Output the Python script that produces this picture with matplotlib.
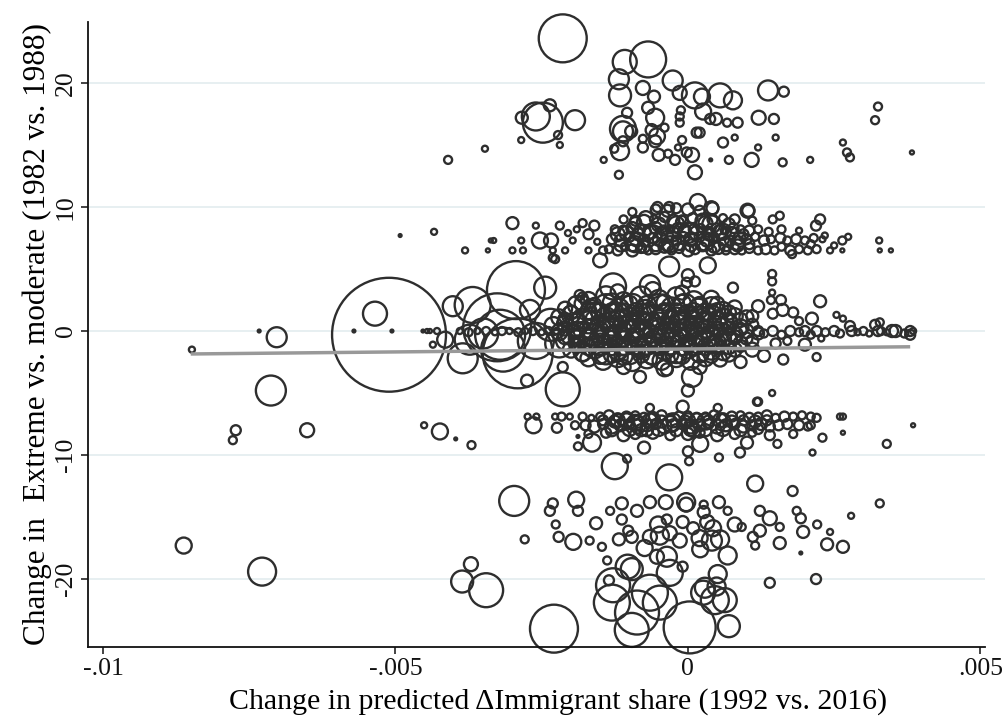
import matplotlib
matplotlib.use("Agg")
from matplotlib import pyplot as plt
import numpy as np

# ---- data (x = change in predicted immigrant share,
#      y = change in extreme vs. moderate vote, w = analytic weight) ----

# upper cluster (y ~ 13..24)
x_top = [-0.00214, -0.00108, -0.00068, -0.00118, -0.00116, -0.00077, -0.00058, -0.00068,
         -0.00026, -0.00014, 0.00012, 0.00024, 0.00055, 0.00077, 0.00137, 0.00164,
         0.00026, 0.00038, 0.00048, 0.00067, 0.00085, 0.00121, 0.00147, 0.0015,
         0.0012, 0.00109, 0.00162, 0.0007, 0.00039, 0.0006, 0.0008, 0.00012,
         0.00007, -0.00002, 0.00015, 0.0002, -0.0001, -0.00017, -0.00022, -0.00034,
         -0.0005, -0.00014, -0.00014, -0.00012, -0.00056, -0.0004, -0.00062, -0.00053,
         -0.00056, -0.00077, -0.00077, -0.00111, -0.00111, -0.00104, -0.00097, -0.00116,
         -0.00126, -0.00111, -0.00118, -0.00144, -0.00193, -0.0026, -0.00248, -0.00284,
         -0.00236, -0.00222, -0.00219, -0.00285, -0.00347, -0.0041, 0.00325, 0.0032,
         0.00265, 0.00272, 0.00277, 0.00383, 0.00209]
y_top = [23.6, 21.7, 21.9, 20.3, 19.0, 19.6, 18.9, 18.0,
         20.2, 19.2, 19.0, 18.9, 19.0, 18.6, 19.4, 19.3,
         17.7, 17.1, 17.1, 16.8, 16.8, 17.2, 17.1, 15.6,
         14.8, 13.8, 13.6, 13.8, 13.8, 15.2, 15.6, 12.8,
         14.2, 14.4, 16.0, 16.0, 15.4, 14.8, 13.8, 14.3,
         14.2, 16.8, 17.3, 17.8, 17.2, 16.4, 16.2, 15.7,
         15.3, 15.5, 14.8, 16.3, 16.1, 17.6, 16.1, 14.5,
         14.7, 15.3, 12.6, 13.8, 17.0, 17.3, 16.8, 17.2,
         18.2, 15.8, 15.0, 15.4, 14.7, 13.8, 18.1, 17.0,
         15.2, 14.4, 14.0, 14.4, 13.8]
w_top = [576, 144, 324, 100, 121, 49, 36, 36,
         100, 49, 169, 64, 144, 81, 100, 25,
         64, 25, 36, 16, 25, 49, 25, 9,
         9, 49, 16, 16, 2, 25, 9, 49,
         49, 25, 25, 25, 16, 9, 25, 16,
         36, 16, 16, 16, 81, 16, 36, 64,
         36, 16, 25, 169, 100, 25, 36, 81,
         16, 25, 16, 9, 100, 196, 400, 36,
         36, 16, 9, 9, 9, 16, 16, 16,
         9, 16, 16, 4, 9]

# band around +7
x_p7 = [-0.00492, -0.00434, -0.00381, -0.00342, -0.00337, -0.00332, -0.003, -0.00282,
        -0.003, -0.00285, -0.0026, -0.00253, -0.00234, -0.00227, -0.00219, -0.00231,
        -0.00205, -0.0021, -0.0019, -0.00197, -0.0018, -0.0017, -0.0017, -0.0016,
        -0.0015, -0.00155, -0.00145,
        -0.00135, -0.0012, -0.00108, -0.00095, -0.0008, -0.00068, -0.00055, -0.0004,
        -0.00028, -0.00015, 0.0, 0.00012, 0.00025, 0.0004, 0.00052, 0.00065,
        0.0008, 0.00092, 0.00105, 0.0012, 0.00133, 0.00148, 0.0016, 0.00175,
        0.0019, 0.00205, 0.0022,
        -0.0013, -0.00115, -0.001, -0.00088, -0.00075, -0.0006, -0.00048, -0.00035,
        -0.0002, -0.00008, 0.00005, 0.0002, 0.00032, 0.00045, 0.0006, 0.00072,
        0.00088, 0.001, 0.00115, 0.0013, 0.00142, 0.00158, 0.0017, 0.00185,
        0.002, 0.00215, 0.0023,
        -0.00125, -0.0011, -0.00095, -0.00082, -0.0007, -0.00055, -0.00042, -0.0003,
        -0.00018, -0.00005, 0.0001, 0.00022, 0.00035, 0.0005, 0.00063, 0.00078,
        0.0009, 0.00105, 0.0012, 0.00138, 0.0016, 0.0019,
        -0.0011, -0.0009, -0.00072, -0.00058, -0.0004, -0.00025, -0.0001, 0.00008,
        0.00025, 0.00042, 0.0006, 0.0008, 0.0011, 0.00145, 0.00226,
        -0.00055, -0.00035, -0.0002, 0.0, 0.0002, 0.00042, 0.00103,
        0.00017, -0.00052, -0.00032, 0.0004, 0.00102, -0.00095, 0.00157,
        -0.00032, 0.00034, -0.00002, 0.00144, 0.00178,
        0.00219, 0.00234, 0.00243, 0.00264, 0.00264, 0.00327, 0.00328, 0.00347,
        0.00274, 0.0025, 0.0021,
        -0.0009, -0.0006, -0.0003, 0.0, 0.0003, 0.0006, -0.0012, -0.0002,
        0.0004, 0.00085, -0.00075,
        -0.00115, -0.00095, -0.00075, -0.00055, -0.00035, -0.00015, 0.00005, 0.00025,
        0.00045, 0.00065, 0.00085, 0.00105,
        -0.00105, -0.00085, -0.00065, -0.00045, -0.00025, -0.00005, 0.00015, 0.00035,
        0.00055, 0.00075, 0.00095,
        -0.0009, -0.0005, -0.0001, 0.0003, 0.0007]
y_p7 = [7.7, 8.0, 6.5, 6.5, 7.3, 7.3, 6.5, 6.5,
        8.7, 7.3, 8.5, 7.3, 7.3, 5.8, 8.5, 6.5,
        7.9, 6.5, 8.2, 7.3, 8.7, 7.8, 6.5, 8.5,
        5.7, 7.2, 6.5,
        6.6, 6.5, 6.8, 6.5, 6.7, 6.5, 6.6, 6.8,
        6.5, 6.7, 6.5, 6.6, 6.8, 6.5, 6.7, 6.5,
        6.6, 6.5, 6.7, 6.5, 6.6, 6.5, 6.8, 6.5,
        6.6, 6.5, 6.6,
        7.4, 7.3, 7.6, 7.4, 7.3, 7.5, 7.4, 7.6,
        7.3, 7.5, 7.4, 7.6, 7.3, 7.5, 7.4, 7.3,
        7.5, 7.4, 7.6, 7.3, 7.4, 7.5, 7.3, 7.4,
        7.3, 7.5, 7.4,
        8.2, 8.1, 8.3, 8.2, 8.0, 8.3, 8.1, 8.2,
        8.3, 8.1, 8.2, 8.3, 8.0, 8.2, 8.1, 8.3,
        8.2, 8.1, 8.2, 8.0, 8.2, 8.1,
        9.0, 8.9, 9.1, 9.0, 9.2, 8.9, 9.0, 9.1,
        8.9, 9.0, 9.1, 9.0, 8.9, 9.0, 9.0,
        9.8, 9.7, 9.9, 9.8, 9.7, 9.9, 9.7,
        10.4, 10.0, 10.0, 9.9, 9.7, 9.6, 9.3,
        5.2, 5.3, 3.9, 4.0, 6.2,
        8.5, 7.7, 6.5, 7.3, 6.5, 7.3, 6.5, 6.5,
        7.6, 6.9, 7.0,
        7.0, 7.8, 7.0, 7.9, 7.2, 8.0, 7.8, 8.6,
        8.6, 7.1, 8.8,
        6.9, 7.0, 6.8, 7.0, 6.9, 7.1, 6.9, 7.0,
        6.8, 7.0, 6.9, 7.0,
        7.9, 7.8, 8.0, 7.9, 7.8, 8.0, 7.9, 7.8,
        8.0, 7.9, 7.8,
        8.7, 8.6, 8.8, 8.7, 8.6]
w_p7 = [2, 9, 9, 4, 4, 6, 9, 9,
        36, 9, 9, 64, 49, 16, 16, 9,
        9, 9, 9, 9, 16, 25, 9, 25,
        49, 9, 16,
        16, 25, 16, 36, 25, 16, 25, 36,
        16, 25, 36, 25, 16, 25, 36, 16,
        25, 16, 25, 16, 25, 16, 16, 25,
        16, 16, 16,
        25, 36, 25, 49, 36, 25, 49, 36,
        25, 36, 49, 25, 36, 25, 36, 25,
        36, 25, 16, 25, 16, 25, 16, 25,
        16, 16, 9,
        16, 25, 36, 25, 16, 36, 25, 16,
        25, 36, 25, 16, 25, 36, 16, 25,
        16, 25, 16, 16, 16, 9,
        16, 25, 49, 16, 25, 36, 16, 25,
        49, 25, 16, 25, 16, 16, 25,
        25, 36, 25, 36, 25, 36, 36,
        64, 25, 25, 49, 49, 16, 16,
        100, 64, 25, 16, 16,
        25, 9, 9, 16, 4, 9, 4, 4,
        9, 9, 16,
        64, 81, 64, 100, 81, 64, 49, 64,
        81, 49, 49,
        36, 49, 36, 49, 36, 49, 36, 49,
        36, 49, 36, 25,
        49, 36, 49, 36, 49, 36, 49, 36,
        49, 36, 25,
        36, 49, 36, 49, 36]

# band around 0
x_mid = [-0.00511, -0.00535, -0.00703, -0.00848, -0.00733, -0.00713, -0.00571, -0.00506,
         -0.00453, -0.00446, -0.00441, -0.00429, -0.00436, -0.00415, -0.00402, -0.00368,
         -0.00373, -0.0035, -0.00385, -0.00294, -0.00326, -0.00291, -0.00316, -0.00321,
         -0.00244, -0.0027, -0.00275, -0.00214, -0.00214, -0.0018, -0.00231, -0.00235,
         -0.0022, -0.0026, -0.00128, -0.00065, 0.0, 0.00012, -0.00185,
         -0.0039, -0.00375, -0.0036, -0.00345, -0.0033, -0.00318, -0.00305, -0.0029,
         -0.00278, -0.00265, -0.0025, -0.00238, -0.00225,
         # right tail
         0.0012, 0.0013, 0.00145, 0.0016, 0.00175, 0.0019, 0.002, 0.0021,
         0.0022, 0.00235, 0.0025, 0.0026, 0.0028, 0.0029, 0.003, 0.0031,
         0.00325, 0.0033, 0.0034, 0.00355, 0.0037, 0.0038,
         0.00226, 0.00212, 0.00254, 0.00265, 0.00277, 0.0032, 0.00328, 0.00349,
         0.0038, 0.00385, 0.0022, 0.00228, 0.002, 0.00163, 0.00144, 0.0012,
         0.0, 0.00007, -0.00082, -0.00036, 0.00144, 0.00077, 0.00144, 0.00142,
         0.00159, 0.00162, 0.0018, 0.00145, 0.0012, 0.0011, 0.0013, 0.0015,
         0.0009, 0.0017, 0.0019, 0.0011]
y_mid = [-0.3, 1.4, -0.5, -1.5, 0.0, -4.8, 0.0, 0.0,
         0.0, 0.0, 0.0, 0.0, -1.1, -0.7, 2.0, 2.1,
         -0.7, -0.2, -2.2, 3.3, 0.3, -1.8, -1.5, -0.3,
         3.5, 1.7, -4.0, -4.7, -2.9, 2.7, 5.9, 0.5,
         -1.0, -0.8, 3.6, 3.7, 4.5, 4.0, 2.9,
         0.0, -0.1, 0.0, 0.0, -0.1, 0.0, 0.0, -0.1,
         0.0, 0.0, -0.1, 0.0, 0.0,
         0.0, -0.2, 0.0, -0.3, 0.0, -0.1, 0.0, -0.3,
         0.0, -0.1, 0.0, -0.2, 0.0, -0.1, 0.0, -0.2,
         0.0, 0.0, -0.1, 0.0, -0.2, 0.0,
         2.4, 1.0, 1.3, 1.0, 0.4, 0.5, 0.7, 0.0,
         -0.3, 0.0, -2.1, -0.6, -1.1, -2.3, -5.0, -5.7,
         -4.8, -3.7, -3.7, -3.1, 4.6, 3.5, 3.1, 2.5,
         2.5, 1.7, 1.5, 1.4, 2.0, -1.5, -2.0, -1.0,
         -2.5, -0.8, 0.8, 1.2]
w_mid = [3249, 144, 100, 9, 2, 225, 2, 2,
         2, 4, 4, 9, 9, 64, 100, 324,
         225, 225, 225, 841, 1156, 1225, 484, 625,
         121, 100, 36, 289, 25, 25, 16, 256,
         196, 324, 169, 100, 36, 25, 25,
         9, 16, 9, 16, 9, 16, 9, 16,
         9, 16, 9, 16, 9,
         25, 16, 25, 16, 25, 16, 25, 16,
         25, 16, 25, 16, 25, 9, 16, 9,
         25, 16, 9, 36, 16, 25,
         36, 36, 9, 9, 25, 25, 16, 36,
         25, 9, 16, 9, 36, 25, 9, 16,
         36, 100, 36, 36, 16, 25, 9, 16,
         25, 36, 25, 25, 36, 49, 36, 25,
         36, 16, 16, 36]

# dense core of the band around 0
x_core = [-0.0017, -0.0014, -0.0011, -0.0008, -0.0005, -0.0002, 0.0001, 0.0004,
          -0.0021, -0.0019, -0.00165, -0.0014, -0.00118, -0.00095, -0.00072, -0.0005,
          -0.00028, -0.00005, 0.00018, 0.0004, 0.0006, 0.0008,
          -0.0022, -0.002, -0.0018, -0.0016, -0.0014, -0.0012, -0.001, -0.0008,
          -0.0006, -0.0004, -0.0002, 0.0, 0.0002, 0.0004, 0.0006, 0.0008, 0.001,
          -0.0023, -0.0021, -0.0019, -0.0017, -0.0015, -0.0013, -0.0011, -0.0009,
          -0.0007, -0.0005, -0.0003, -0.0001, 0.0001, 0.0003, 0.0005, 0.0007,
          0.0009, 0.0011,
          -0.0022, -0.002, -0.0018, -0.0016, -0.0014, -0.0012, -0.001, -0.0008,
          -0.0006, -0.0004, -0.0002, 0.0, 0.0002, 0.0004, 0.0006, 0.0008,
          0.001, 0.0012,
          -0.0021, -0.0019, -0.0017, -0.0015, -0.0013, -0.0011, -0.0009, -0.0007,
          -0.0005, -0.0003, -0.0001, 0.0001, 0.0003, 0.0005, 0.0007, 0.0009, 0.0011,
          -0.002, -0.0018, -0.0016, -0.0014, -0.0012, -0.001, -0.0008, -0.0006,
          -0.0004, -0.0002, 0.0, 0.0002, 0.0004, 0.0006, 0.0008,
          -0.0017, -0.00145, -0.0012, -0.00095, -0.0007, -0.00045, -0.0002, 0.00005,
          0.0003, 0.00055,
          -0.0012, -0.0006, -0.0001, -0.0011, -0.0004, 0.0002,
          -0.0018, -0.0016, -0.0013, -0.001, -0.0007, -0.0004, -0.0001, 0.0002, 0.0005,
          -0.002, -0.0017, -0.0015, -0.0013, -0.0011, -0.0009, -0.0007, -0.0004,
          -0.0002, 0.0001, 0.0003, 0.0005, 0.0007,
          -0.0021, -0.0019, -0.0016, -0.0014, -0.0012, -0.001, -0.0008, -0.0006,
          -0.0003, -0.0001, 0.0001, 0.0003, 0.0005, 0.0007, 0.0009,
          -0.0021, -0.0019, -0.0017, -0.0015, -0.0013, -0.0011, -0.0009, -0.0007,
          -0.0005, -0.0003, -0.0001, 0.0001, 0.0003, 0.0005, 0.0007, 0.0009,
          -0.0021, -0.0019, -0.0017, -0.0015, -0.0013, -0.0011, -0.0009, -0.0006,
          -0.0004, -0.0002, 0.0, 0.0002, 0.0004, 0.0006, 0.0008, 0.001,
          -0.0019, -0.0017, -0.0015, -0.0013, -0.0011, -0.0009, -0.0007, -0.0005,
          -0.0003, -0.0001, 0.0001, 0.0003, 0.0005, 0.0007, 0.0009,
          -0.0018, -0.0015, -0.0013, -0.0011, -0.0008, -0.0006, -0.0003, -0.0001,
          0.0002, 0.0004, 0.0007]
y_core = [2.5, 2.8, 2.4, 2.7, 2.5, 2.8, 2.4, 2.6,
          1.8, 2.1, 1.7, 2.0, 1.8, 2.1, 1.7, 2.0,
          1.9, 2.1, 1.8, 2.0, 1.7, 1.9,
          1.1, 1.3, 1.0, 1.4, 1.1, 1.3, 1.0, 1.4,
          1.1, 1.3, 1.0, 1.3, 1.1, 1.4, 1.0, 1.2, 1.1,
          0.4, 0.6, 0.3, 0.7, 0.4, 0.6, 0.3, 0.7,
          0.4, 0.6, 0.3, 0.6, 0.4, 0.7, 0.4, 0.6,
          0.3, 0.5,
          -0.1, -0.3, 0.0, -0.3, -0.1, -0.3, 0.0, -0.2,
          -0.4, -0.1, -0.3, 0.0, -0.2, -0.4, -0.1, -0.3,
          0.0, -0.2,
          -0.8, -1.0, -0.7, -1.1, -0.8, -1.0, -0.7, -1.1,
          -0.8, -1.0, -0.7, -1.1, -0.8, -1.0, -0.7, -1.0, -0.8,
          -1.5, -1.7, -1.4, -1.8, -1.5, -1.7, -1.4, -1.8,
          -1.5, -1.7, -1.4, -1.8, -1.5, -1.7, -1.5,
          -2.2, -2.4, -2.1, -2.5, -2.2, -2.4, -2.1, -2.4,
          -2.2, -2.3,
          3.2, 3.3, 3.1, -2.9, -3.0, -2.9,
          2.2, 2.1, 2.3, 2.2, 2.1, 2.3, 2.2, 2.1, 2.2,
          1.5, 1.6, 1.5, 1.6, 1.5, 1.6, 1.5, 1.6,
          1.5, 1.6, 1.5, 1.6, 1.5,
          0.9, 0.8, 0.9, 0.8, 0.9, 0.8, 0.9, 0.8,
          0.9, 0.8, 0.9, 0.8, 0.9, 0.8, 0.9,
          0.2, 0.1, 0.2, 0.1, 0.2, 0.1, 0.2, 0.1,
          0.2, 0.1, 0.2, 0.1, 0.2, 0.1, 0.2, 0.1,
          -0.5, -0.6, -0.5, -0.6, -0.5, -0.6, -0.5, -0.6,
          -0.5, -0.6, -0.5, -0.6, -0.5, -0.6, -0.5, -0.6,
          -1.2, -1.3, -1.2, -1.3, -1.2, -1.3, -1.2, -1.3,
          -1.2, -1.3, -1.2, -1.3, -1.2, -1.3, -1.2,
          -1.9, -2.0, -1.9, -2.0, -1.9, -2.0, -1.9, -2.0,
          -1.9, -2.0, -1.9]
w_core = [64, 100, 81, 121, 100, 81, 100, 64,
          49, 81, 100, 144, 100, 121, 100, 144,
          100, 121, 100, 81, 64, 49,
          64, 81, 100, 121, 100, 144, 121, 100,
          144, 100, 121, 100, 121, 81, 100, 64, 49,
          81, 64, 100, 121, 100, 144, 121, 100,
          144, 121, 100, 144, 100, 121, 100, 81,
          64, 36,
          64, 100, 81, 121, 144, 100, 121, 144,
          100, 121, 144, 100, 121, 100, 81, 64,
          49, 36,
          81, 64, 100, 121, 100, 144, 121, 100,
          144, 121, 100, 121, 100, 81, 64, 49, 36,
          64, 81, 100, 121, 100, 144, 100, 121,
          100, 121, 100, 81, 100, 64, 49,
          64, 81, 100, 81, 100, 81, 100, 81,
          64, 49,
          49, 64, 49, 49, 64, 49,
          64, 49, 81, 64, 81, 64, 81, 64, 49,
          49, 64, 81, 64, 81, 64, 81, 64,
          81, 64, 81, 64, 49,
          49, 64, 81, 64, 81, 64, 81, 64,
          81, 64, 81, 64, 81, 64, 49,
          49, 64, 81, 64, 81, 64, 81, 64,
          81, 64, 81, 64, 81, 64, 49, 36,
          49, 64, 81, 64, 81, 64, 81, 64,
          81, 64, 81, 64, 81, 64, 49, 36,
          49, 64, 81, 64, 81, 64, 81, 64,
          81, 64, 81, 64, 64, 49, 36,
          49, 64, 64, 81, 64, 81, 64, 64,
          64, 49, 49]

# band around -7
x_m7 = [-0.00773, -0.00778, -0.00651, -0.00451, -0.00424, -0.00397, -0.0037, -0.00264,
        -0.00259, -0.00274, -0.00224, -0.00227, -0.00216, -0.00202, -0.00193,
        -0.0018, -0.00165, -0.0015, -0.00135, -0.0012, -0.00105, -0.0009, -0.00075,
        -0.0006, -0.00045, -0.0003, -0.00015, 0.0, 0.00015, 0.0003, 0.00045,
        0.0006, 0.00075, 0.0009, 0.00105, 0.0012, 0.00135, 0.0015, 0.00165,
        0.0018, 0.00195, 0.0021, 0.0022, 0.0026,
        -0.00175, -0.0016, -0.00145, -0.0013, -0.00115, -0.001, -0.00085, -0.0007,
        -0.00055, -0.0004, -0.00025, -0.0001, 0.00005, 0.0002, 0.00035, 0.0005,
        0.00065, 0.0008, 0.00095, 0.0011, 0.00125, 0.0014, 0.00155, 0.0017,
        0.0019, 0.00205, 0.0021,
        -0.0017, -0.0014, -0.0011, -0.0009, -0.0006, -0.0003, 0.0, 0.0002,
        0.0005, 0.0008, 0.0011, 0.0014, 0.0018,
        -0.0012, -0.0009, -0.0006, -0.0003, 0.0, 0.0003, 0.0006, -0.0007, 0.0001,
        -0.00164, -0.00188, -0.00188, -0.00075, 0.0, 0.00021, 0.00053, 0.00002,
        0.00089, 0.00101, 0.00153, 0.00213, 0.0023, 0.00265, 0.00265, 0.00385,
        0.0034, 0.00118, -0.00009, 0.00051, -0.00065,
        -0.00145, -0.00125, -0.00105, -0.00085, -0.00065, -0.00045, -0.00025, -0.00005,
        0.00015, 0.00035, 0.00055, 0.00075, 0.00095, 0.00115, 0.00135,
        -0.0013, -0.001, -0.0008, -0.0005, -0.0002, 0.00005, 0.0003, 0.0006,
        0.0009, 0.0012]
y_m7 = [-8.0, -8.8, -8.0, -7.6, -8.1, -8.7, -9.2, -7.6,
        -6.9, -6.9, -7.8, -6.9, -6.9, -6.9, -7.6,
        -6.9, -7.0, -6.9, -6.8, -7.0, -6.9, -6.8, -7.0,
        -6.9, -6.8, -7.0, -6.9, -6.8, -7.0, -6.9, -6.8,
        -7.0, -6.9, -6.8, -7.0, -6.9, -6.8, -7.0, -6.9,
        -6.9, -6.8, -6.9, -7.0, -6.9,
        -7.6, -7.7, -7.5, -7.7, -7.6, -7.5, -7.7, -7.6,
        -7.5, -7.7, -7.6, -7.5, -7.7, -7.6, -7.5, -7.7,
        -7.6, -7.5, -7.7, -7.6, -7.5, -7.7, -7.6, -7.5,
        -7.6, -7.7, -7.6,
        -8.3, -8.2, -8.4, -8.3, -8.2, -8.4, -8.3, -8.2,
        -8.4, -8.3, -8.2, -8.4, -8.3,
        -7.2, -7.4, -7.1, -7.5, -7.2, -7.3, -7.2, -8.0, -8.0,
        -9.0, -9.3, -8.5, -9.4, -9.7, -9.1, -10.2, -10.5,
        -9.8, -9.0, -9.1, -9.8, -8.6, -8.2, -6.9, -7.6,
        -9.1, -5.7, -6.1, -6.2, -6.2,
        -7.2, -7.3, -7.2, -7.3, -7.2, -7.3, -7.2, -7.3,
        -7.2, -7.3, -7.2, -7.3, -7.2, -7.3, -7.2,
        -8.0, -7.9, -8.0, -7.9, -8.0, -7.9, -8.0, -7.9,
        -8.0, -7.9]
w_m7 = [25, 16, 49, 9, 64, 2, 16, 64,
        9, 9, 25, 9, 16, 9, 16,
        16, 9, 16, 25, 16, 25, 16, 25,
        16, 25, 16, 25, 16, 25, 16, 25,
        16, 25, 16, 25, 16, 25, 16, 25,
        16, 16, 16, 16, 9,
        25, 36, 25, 49, 36, 25, 49, 36,
        25, 49, 36, 25, 49, 36, 25, 49,
        36, 25, 36, 25, 36, 25, 25, 25,
        25, 16, 16,
        16, 25, 36, 25, 36, 25, 36, 25,
        36, 25, 16, 25, 16,
        49, 64, 49, 64, 49, 64, 49, 36, 49,
        81, 16, 2, 36, 25, 64, 16, 16,
        25, 36, 16, 9, 16, 4, 9, 4,
        16, 16, 36, 16, 16,
        25, 36, 49, 36, 49, 36, 49, 36,
        49, 36, 49, 36, 25, 36, 25,
        36, 49, 36, 49, 36, 49, 36, 49,
        36, 25]

# lower cluster (y below -10)
x_bot = [-0.00125, -0.00104, -0.00032, 0.00115, 0.00179, 0.00328, 0.00279, -0.00297,
         -0.00231, -0.00236, -0.00226, -0.00221, -0.00279, -0.00862, -0.00728, -0.00371,
         -0.00386, -0.00345, -0.00229, -0.00191, -0.00188, -0.00196, -0.00168, -0.00133,
         -0.00113, -0.00087, -0.00157, -0.00113, -0.00102, -0.00065, -0.00038, -0.00003,
         -0.00003, 0.00027, 0.00053, 0.00068, 0.00027, 0.00123, 0.0014, 0.00186,
         0.00193, 0.00197, 0.00221, 0.00243, 0.00238, 0.00265, 0.00193, 0.00157,
         0.00157, 0.00123, 0.00111, 0.00115, 0.00092, 0.0008, 0.00068, 0.00051,
         0.0014, 0.00219, 0.0007, 0.00003, 0.00026, 0.00046, 0.00063, 0.00049,
         0.00029, -0.00128, -0.0013, -0.00103, -0.00087, -0.00096, -0.00065, -0.00048,
         -0.00031, -0.00036, -0.00009, -0.00074, -0.00053, -0.00096, -0.00138, -0.00135,
         -0.00048, -0.00031, 0.0002, 0.00041, 0.00055, 0.00043, 0.00009, 0.00021,
         -0.00014, -0.00065, -0.00096, -0.00118, -0.00147, -0.00051, -0.00009, 0.00033,
         -0.00036]
y_bot = [-10.9, -10.3, -11.8, -12.3, -12.9, -13.9, -14.9, -13.7,
         -13.9, -14.5, -15.6, -16.6, -16.8, -17.3, -19.4, -18.8,
         -20.2, -20.9, -24.0, -13.6, -14.5, -17.0, -16.9, -14.5,
         -13.9, -14.5, -15.5, -15.2, -16.1, -13.8, -13.8, -13.8,
         -14.0, -14.0, -13.8, -14.5, -14.6, -14.5, -15.1, -14.5,
         -15.1, -16.2, -15.6, -16.2, -17.2, -17.4, -17.9, -15.8,
         -17.1, -16.1, -16.6, -17.3, -15.8, -15.6, -18.1, -19.6,
         -20.3, -20.0, -23.8, -23.9, -21.1, -21.7, -21.7, -20.6,
         -20.7, -20.5, -21.9, -19.0, -22.7, -24.1, -21.1, -21.9,
         -19.5, -18.2, -19.0, -17.5, -18.2, -19.2, -18.5, -20.1,
         -16.5, -16.3, -16.7, -16.9, -16.8, -15.9, -15.9, -17.6,
         -16.9, -16.6, -16.6, -16.8, -17.4, -15.6, -15.4, -15.4,
         -15.2]
w_bot = [169, 16, 169, 64, 25, 16, 9, 225,
         25, 25, 16, 25, 16, 64, 196, 49,
         121, 289, 576, 64, 25, 64, 16, 16,
         36, 36, 36, 25, 25, 36, 49, 81,
         49, 16, 36, 16, 36, 25, 49, 16,
         25, 36, 16, 9, 36, 36, 2, 16,
         36, 36, 25, 16, 16, 49, 81, 81,
         25, 25, 121, 676, 144, 196, 144, 81,
         100, 289, 324, 144, 484, 289, 324, 289,
         169, 100, 25, 64, 49, 121, 16, 25,
         81, 49, 64, 100, 81, 64, 36, 64,
         49, 49, 36, 36, 16, 64, 36, 49,
         25]

# linear fit
fit_x = [-0.0085, 0.0038]
fit_y = [-1.85, -1.27]

xticks = [-0.01, -0.005, 0, 0.005]
xticklabels = ["-.01", "-.005", "0", ".005"]
yticks = [-20, -10, 0, 10, 20]

# ---- drawing ----
plt.rcParams['font.family'] = ['Liberation Serif', 'DejaVu Serif']

fig = plt.figure(figsize=(10.06, 7.23), dpi=100)
ax = fig.add_axes([0.0875, 0.1051, 0.8915, 0.8645])

for yv in yticks:
    ax.axhline(yv, color='#e7eff1', lw=1.4, zorder=0)

xs = np.array(x_top + x_p7 + x_mid + x_core + x_m7 + x_bot)
ys = np.array(y_top + y_p7 + y_mid + y_core + y_m7 + y_bot)
ws = np.array(w_top + w_p7 + w_mid + w_core + w_m7 + w_bot, dtype=float)
ax.scatter(xs, ys, s=ws * 2.07, facecolors='none', edgecolors='#2e2e2e',
           linewidths=1.7, zorder=2, clip_on=False)

ax.plot(fit_x, fit_y, color='#999999', lw=2.5, zorder=3, solid_capstyle='butt')

ax.set_xlim(-0.010256, 0.005077)
ax.set_ylim(-25.48, 24.92)

ax.set_xticks(xticks)
ax.set_xticklabels(xticklabels)
ax.set_yticks(yticks)
ax.set_yticklabels([str(v) for v in yticks], rotation=90, va='center')
ax.tick_params(axis='both', direction='out', length=5, width=1.1, colors='#111111',
               labelsize=18.5, pad=3)

for side in ['top', 'right']:
    ax.spines[side].set_visible(False)
for side in ['left', 'bottom']:
    ax.spines[side].set_linewidth(1.3)
    ax.spines[side].set_color('#111111')

ax.set_xlabel("Change in predicted \u0394Immigrant share (1992 vs. 2016)", fontsize=21.5)
ax.xaxis.set_label_coords(0.524, -0.066)
ax.set_ylabel("Change in  Extreme vs. moderate (1982 vs. 1988)", fontsize=22.5, labelpad=2)

fig.savefig("out.png", dpi=100)
